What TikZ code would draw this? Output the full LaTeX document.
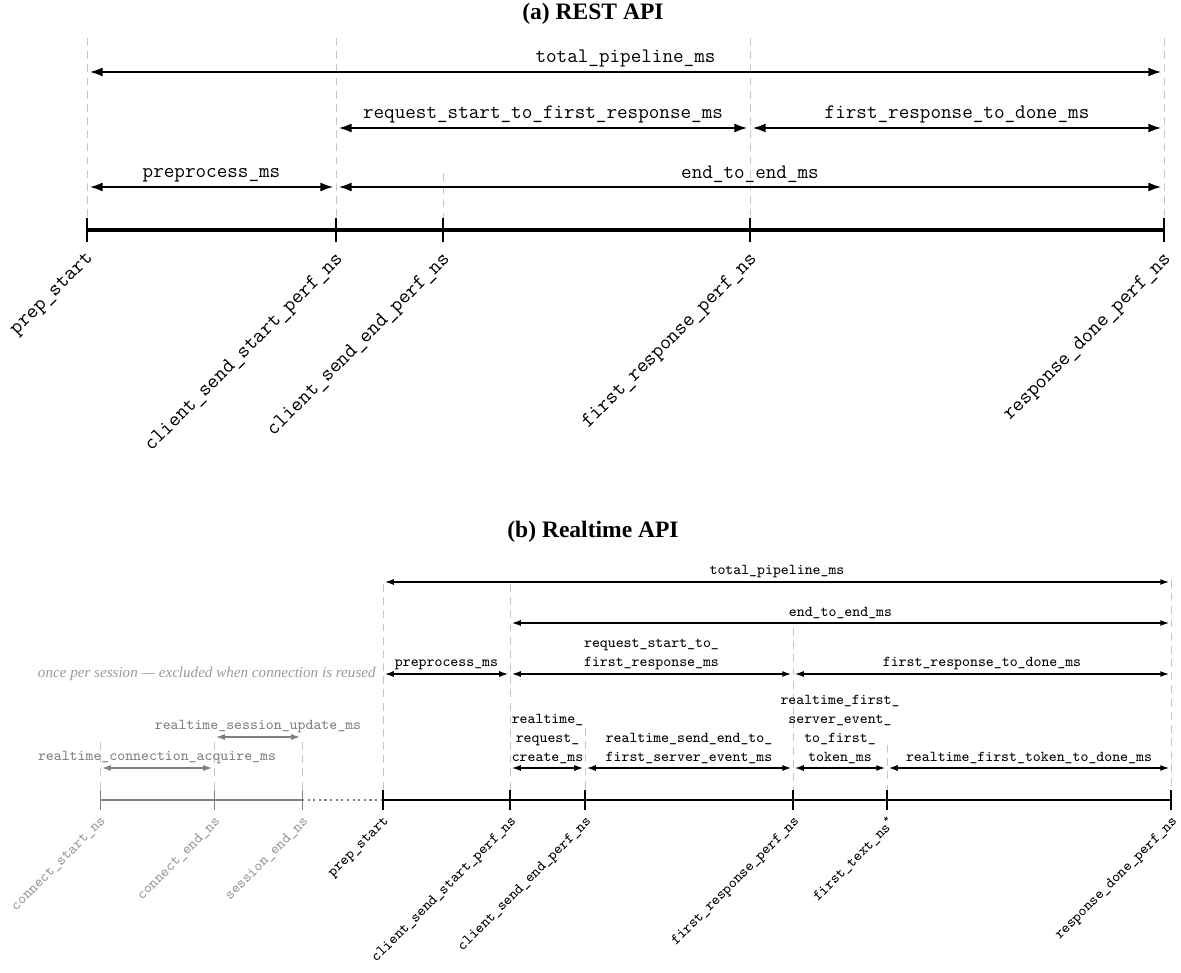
\documentclass[tikz,border=0pt]{standalone}
\usepackage{fontspec}
\newfontfamily\serifnote[Ligatures=TeX]{Liberation Serif}
\usepackage{tikz}
\usetikzlibrary{arrows.meta}
\definecolor{gris}{rgb}{0.78,0.78,0.78}
\definecolor{grisfonce}{rgb}{0.5,0.5,0.5}
\definecolor{grisclair}{rgb}{0.6,0.6,0.6}

\begin{document}
\begin{tikzpicture}[x=0.02cm, y=-0.02cm]
  \tikzstyle{guide}=[draw=gris, dash pattern=on 4.5pt off 3pt, line width=0.5pt]
  \tikzstyle{spana}=[<->, >={Latex[length=2.6mm,width=1.8mm]}, line width=1.1pt, shorten <=1.5pt, shorten >=1.5pt]
  \tikzstyle{spanb}=[<->, >={Latex[length=1.8mm,width=1.2mm]}, line width=0.8pt, shorten <=1pt, shorten >=1pt]
  \tikzstyle{spang}=[spanb, draw=grisfonce, color=grisfonce]
  \tikzstyle{laba}=[above=1pt, inner sep=1pt, font=\fontsize{11.7}{14}\selectfont\ttfamily]
  \tikzstyle{labb}=[above=1pt, inner sep=1pt, align=center, font=\fontsize{8.6}{10.8}\selectfont\ttfamily]
  \tikzstyle{labg}=[labb, text=grisfonce]
  \tikzstyle{ticklaba}=[rotate=45, anchor=north east, inner sep=0pt, font=\fontsize{12}{14}\selectfont\ttfamily]
  \tikzstyle{ticklabb}=[rotate=45, anchor=north east, inner sep=0pt, font=\fontsize{8.6}{10}\selectfont\ttfamily]
  \tikzstyle{ticklabg}=[ticklabb, text=grisclair]
  \tikzstyle{titre}=[inner sep=0pt, font=\fontsize{13.4}{16}\selectfont\serifnote\bfseries]

  \useasboundingbox (0,0) rectangle (1181,973);

  % (a) REST API
  \node[titre] (ta) at (593,14) {(a) REST API};

  \coordinate (a0) at (87,230);
  \coordinate (a1) at (336,230);
  \coordinate (a2) at (443,230);
  \coordinate (a3) at (750,230);
  \coordinate (a4) at (1164,230);
  \coordinate (ga) at (0,38);
  \coordinate (gb) at (0,173);
  \coordinate (ra1) at (0,72);
  \coordinate (ra2) at (0,128);
  \coordinate (ra3) at (0,187);

  \foreach \t in {a0,a1,a3,a4}
    \draw[guide] (\t |- ga) -- ([yshift=7pt]\t);
  \draw[guide] (a2 |- gb) -- ([yshift=7pt]a2);

  \draw[line width=2pt] (a0) -- (a4);
  \foreach \t in {a0,a1,a2,a3,a4}
    \draw[line width=0.6pt] ([yshift=7pt]\t) -- ([yshift=-7pt]\t);

  \draw[spana] (a0 |- ra1) -- node[laba] {total\_pipeline\_ms} (a4 |- ra1);
  \draw[spana] (a1 |- ra2) -- node[laba] {request\_start\_to\_first\_response\_ms} (a3 |- ra2);
  \draw[spana] (a3 |- ra2) -- node[laba] {first\_response\_to\_done\_ms} (a4 |- ra2);
  \draw[spana] (a0 |- ra3) -- node[laba] {preprocess\_ms} (a1 |- ra3);
  \draw[spana] (a1 |- ra3) -- node[laba] {end\_to\_end\_ms} (a4 |- ra3);

  \node[ticklaba] (la0) at ([shift={(-2,20)}]a0) {prep\_start};
  \node[ticklaba] (la1) at ([shift={(-2,20)}]a1) {client\_send\_start\_perf\_ns};
  \node[ticklaba] (la2) at ([shift={(-2,20)}]a2) {client\_send\_end\_perf\_ns};
  \node[ticklaba] (la3) at ([shift={(-2,20)}]a3) {first\_response\_perf\_ns};
  \node[ticklaba] (la4) at ([shift={(-2,20)}]a4) {response\_done\_perf\_ns};

  % (b) Realtime API
  \node[titre] (tb) at (593,532) {(b) Realtime API};

  \coordinate (b0) at (100,800);
  \coordinate (b1) at (214,800);
  \coordinate (b2) at (302,800);
  \coordinate (b3) at (383,800);
  \coordinate (b4) at (510,800);
  \coordinate (b5) at (585,800);
  \coordinate (b6) at (793,800);
  \coordinate (b7) at (887,800);
  \coordinate (b8) at (1171,800);
  \coordinate (rb1) at (0,582);
  \coordinate (rb2) at (0,623);
  \coordinate (rb3) at (0,674);
  \coordinate (rb4) at (0,768);
  \coordinate (rbg) at (0,737);

  \foreach \t/\h in {b0/742,b1/742,b2/742,b3/584,b4/584,b5/728,b6/628,b7/745,b8/580}
    \draw[guide] (\t |- 0,\h) -- ([yshift=5.5pt]\t);

  \draw[grisfonce, line width=1.2pt] (b0) -- (b2);
  \draw[grisfonce, line width=1.2pt, dotted] (b2) -- (b3);
  \draw[line width=1.6pt] (b3) -- (b8);
  \foreach \t in {b0,b1,b2}
    \draw[grisfonce, line width=0.5pt] ([yshift=5.5pt]\t) -- ([yshift=-5.5pt]\t);
  \foreach \t in {b3,b4,b5,b6,b7,b8}
    \draw[line width=0.6pt] ([yshift=5.5pt]\t) -- ([yshift=-5.5pt]\t);

  \draw[spanb] (b3 |- rb1) -- node[labb] {total\_pipeline\_ms} (b8 |- rb1);
  \draw[spanb] (b4 |- rb2) -- node[labb] {end\_to\_end\_ms} (b8 |- rb2);
  \draw[spanb] (b3 |- rb3) -- node[labb] {preprocess\_ms} (b4 |- rb3);
  \draw[spanb] (b4 |- rb3) -- node[labb] {request\_start\_to\_\\first\_response\_ms} (b6 |- rb3);
  \draw[spanb] (b6 |- rb3) -- node[labb] {first\_response\_to\_done\_ms} (b8 |- rb3);
  \draw[spanb] (b4 |- rb4) -- node[labb] {realtime\_\\request\_\\create\_ms} (b5 |- rb4);
  \draw[spanb] (b5 |- rb4) -- node[labb] {realtime\_send\_end\_to\_\\first\_server\_event\_ms} (b6 |- rb4);
  \draw[spanb] (b6 |- rb4) -- node[labb] {realtime\_first\_\\server\_event\_\\to\_first\_\\token\_ms} (b7 |- rb4);
  \draw[spanb] (b7 |- rb4) -- node[labb] {realtime\_first\_token\_to\_done\_ms} (b8 |- rb4);
  \draw[spang] (b0 |- rb4) -- node[labg] {realtime\_connection\_acquire\_ms} (b1 |- rb4);
  \draw[spang] (b1 |- rbg) -- node[labg] {realtime\_session\_update\_ms} (b2 |- rbg);

  \node[anchor=east, inner sep=0pt, text=grisclair, font=\fontsize{8.6}{10}\selectfont\serifnote\itshape] (note) at ([xshift=-4pt]b3 |- rb3) {once per session \textemdash{} excluded when connection is reused};

  \node[ticklabg] (lb0) at ([shift={(0,15)}]b0) {connect\_start\_ns};
  \node[ticklabg] (lb1) at ([shift={(0,15)}]b1) {connect\_end\_ns};
  \node[ticklabg] (lb2) at ([shift={(0,15)}]b2) {session\_end\_ns};
  \node[ticklabb] (lb3) at ([shift={(0,15)}]b3) {prep\_start};
  \node[ticklabb] (lb4) at ([shift={(0,15)}]b4) {client\_send\_start\_perf\_ns};
  \node[ticklabb] (lb5) at ([shift={(0,15)}]b5) {client\_send\_end\_perf\_ns};
  \node[ticklabb] (lb6) at ([shift={(0,15)}]b6) {first\_response\_perf\_ns};
  \node[ticklabb] (lb7) at ([shift={(0,15)}]b7) {first\_text\_ns\textsuperscript{*}};
  \node[ticklabb] (lb8) at ([shift={(0,15)}]b8) {response\_done\_perf\_ns};
\end{tikzpicture}
\end{document}
